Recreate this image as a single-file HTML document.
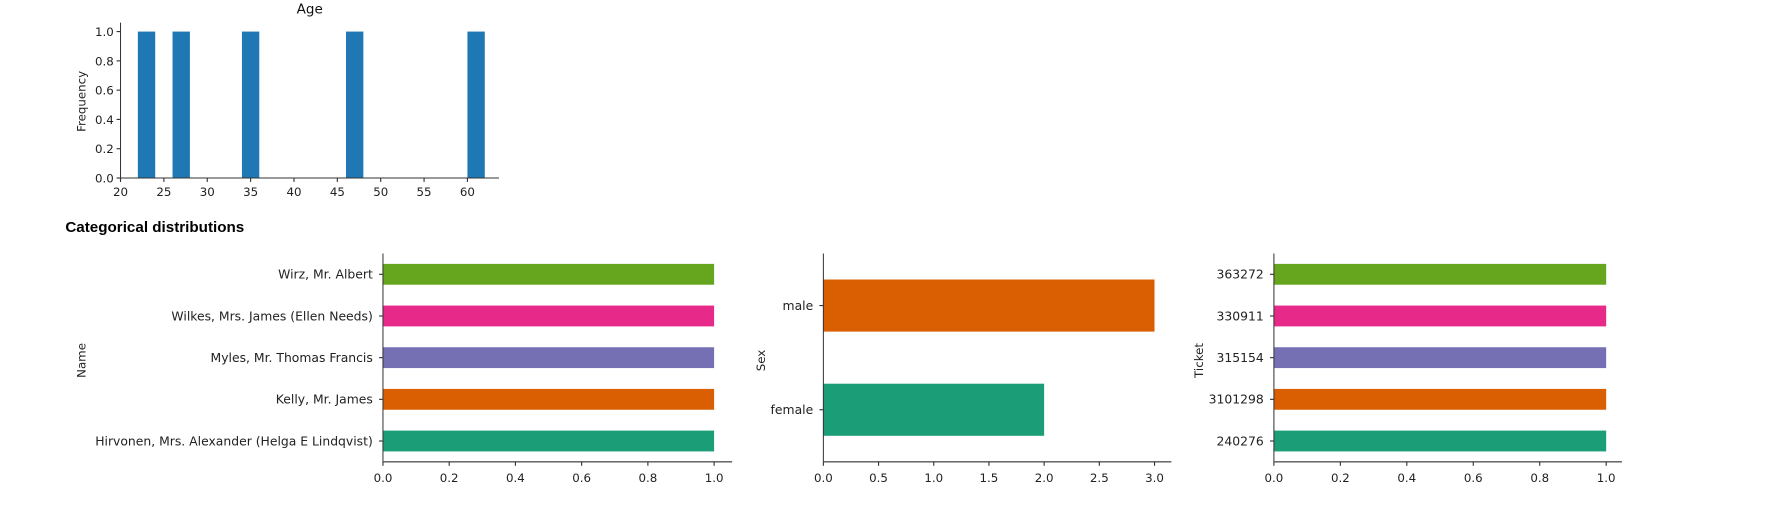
<!DOCTYPE html>
<html><head><meta charset="utf-8"><style>
body{margin:0;background:#fff;}
svg{display:block;font-family:"DejaVu Sans","Liberation Sans",sans-serif;}
</style></head><body>
<svg id="c" width="1765" height="512" viewBox="0 0 1567 454.5"></svg>
<script>
const ageBinStart = 22;
const ageBinWidth = 2;
const ageCounts = [1,0,1,0,0,0,1,0,0,0,0,0,1,0,0,0,0,0,0,1];
const ageXTicks = [20,25,30,35,40,45,50,55,60];
const ageYTicks = [0,0.2,0.4,0.6,0.8,1.0];
const nameCats = ["Hirvonen, Mrs. Alexander (Helga E Lindqvist)","Kelly, Mr. James","Myles, Mr. Thomas Francis","Wilkes, Mrs. James (Ellen Needs)","Wirz, Mr. Albert"];
const nameVals = [1,1,1,1,1];
const sexCats = ["female","male"];
const sexVals = [2,3];
const ticketCats = ["240276","3101298","315154","330911","363272"];
const ticketVals = [1,1,1,1,1];
const unitTicks = [0,0.2,0.4,0.6,0.8,1.0];
const sexTicks = [0,0.5,1.0,1.5,2.0,2.5,3.0];
const palette = ["#1b9e77","#d95f02","#7570b3","#e7298a","#66a61e"];

const svg = document.getElementById('c');
const NS = 'http://www.w3.org/2000/svg';
function mk(tag, attrs, parent){const e=document.createElementNS(NS,tag);for(const k in attrs)e.setAttribute(k,attrs[k]);(parent||svg).appendChild(e);return e;}
function txt(s,attrs,parent){const e=mk('text',attrs,parent);e.textContent=s;return e;}
function fmt(v,d){return v.toFixed(d);}

(function(){
  const g = mk('g',{});
  
  
  const L=107,R=443,B=158,T=20;
  const x=v=>107+(v-20)*7.7;
  const y=v=>158-v*130;
  ageCounts.forEach((c,i)=>{
    if(c<=0) return;
    const x0=ageBinStart+i*ageBinWidth;
    const r=mk('rect',{x:x(x0),y:y(c),width:x(x0+ageBinWidth)-x(x0),height:y(0)-y(c),fill:'#1f77b4'},g);
    
    
  });
  mk('line',{x1:L,y1:T,x2:L,y2:B,stroke:'#333','stroke-width':0.9},g);
  mk('line',{x1:L,y1:B,x2:R,y2:B,stroke:'#333','stroke-width':0.9},g);
  ageXTicks.forEach(t=>{mk('line',{x1:x(t),y1:B,x2:x(t),y2:B+3.5,stroke:'#333'},g);
    const e=txt(String(t),{x:x(t),y:B+16,'font-size':10.5,'text-anchor':'middle',fill:'#222'},g);
    });
  ageYTicks.forEach(t=>{mk('line',{x1:L-3.5,y1:y(t),x2:L,y2:y(t),stroke:'#333'},g);
    const e=txt(fmt(t,1),{x:L-6,y:y(t)+4,'font-size':10.5,'text-anchor':'end',fill:'#222'},g);
    });
  const t=txt('Age',{x:275,y:12,'font-size':12,'text-anchor':'middle',fill:'#111'},g);
  
  const yl=txt('Frequency',{x:0,y:0,'font-size':10.5,'text-anchor':'middle',fill:'#222',transform:'translate(76,90) rotate(-90)'},g);
  
})();

const h=txt('Categorical distributions',{x:58,y:206,'font-size':13.5,'font-weight':'bold',fill:'#000','font-family':'Liberation Sans, sans-serif'});


function barh(name,L,unitPx,xmaxPx,cats,vals,ticks,dec,labelX,label,colors){
  const g=mk('g',{});
  
  
  const T=225,B=410;
  const n=cats.length;
  const step=(B-T)/n;
  const x=v=>L+v*unitPx;
  cats.forEach((c,i)=>{
    const cy=B-step*(i+0.5);
    const bh=step*0.5;
    const r=mk('rect',{x:x(0),y:cy-bh/2,width:x(vals[i])-x(0),height:bh,fill:colors[i%colors.length]},g);
    
    
    mk('line',{x1:L-3.5,y1:cy,x2:L,y2:cy,stroke:'#333'},g);
    const e=txt(c,{x:L-9,y:cy+3.8,'font-size':11,'text-anchor':'end',fill:'#222'},g);
    
  });
  mk('line',{x1:L,y1:T,x2:L,y2:B,stroke:'#333','stroke-width':0.9},g);
  mk('line',{x1:L,y1:B,x2:xmaxPx,y2:B,stroke:'#555','stroke-width':1.2},g);
  ticks.forEach(t=>{mk('line',{x1:x(t),y1:B,x2:x(t),y2:B+3.5,stroke:'#333'},g);
    const e=txt(fmt(t,dec),{x:x(t),y:B+18,'font-size':10.5,'text-anchor':'middle',fill:'#222'},g);
    });
  const yl=txt(label,{x:0,y:0,'font-size':10.5,'text-anchor':'middle',fill:'#222',transform:'translate('+labelX+',320) rotate(-90)'},g);
  
}
barh('name-chart',340,294,650,nameCats,nameVals,unitTicks,1,76,'Name',palette);
barh('sex-chart',731,98,1040,sexCats,sexVals,sexTicks,1,679,'Sex',palette);
barh('ticket-chart',1131,295,1440,ticketCats,ticketVals,unitTicks,1,1068,'Ticket',palette);
</script>
</body></html>
